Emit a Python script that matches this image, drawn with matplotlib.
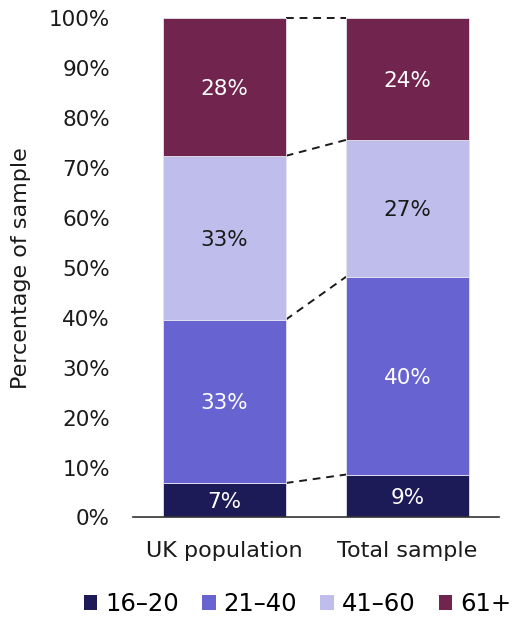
import matplotlib
matplotlib.use("Agg")
import matplotlib.pyplot as plt
import numpy as np
from matplotlib.patches import Patch

plt.rcParams['font.family'] = ['DejaVu Sans']

groups = ["UK population", "Total sample"]
age_bands = ["16\u201320", "21\u201340", "41\u201360", "61+"]
uk_population = [6.9, 32.7, 32.8, 27.6]
total_sample = [8.6, 39.6, 27.4, 24.4]
colors = ["#1c1a57", "#6763d1", "#bfbdec", "#70244e"]
label_colors = ["white", "white", "#1a1a1a", "white"]

values = np.array([uk_population, total_sample])  # rows: groups, cols: bands

fig = plt.figure(figsize=(5.15, 6.17), dpi=100)
ax = fig.add_axes([0.258, 0.1613, 0.711, 0.8095])

x = np.arange(len(groups))
width = 0.67
bottoms = np.zeros(len(groups))
tops_all = []
for j, band in enumerate(age_bands):
    vals = values[:, j]
    ax.bar(x, vals, width, bottom=bottoms, color=colors[j],
           edgecolor="#e6e3ee", linewidth=0.6, zorder=2)
    for i in range(len(groups)):
        ax.text(x[i], bottoms[i] + vals[i] / 2 - 0.4, f"{vals[i]:.0f}%",
                ha="center", va="center", fontsize=15.5,
                color=label_colors[j], zorder=3)
    bottoms = bottoms + vals
    tops_all.append(bottoms.copy())

# dashed connectors between the stacked segment boundaries
for tops in tops_all:
    ax.plot([x[0] + width / 2, x[1] - width / 2], [tops[0], tops[1]],
            ls=(0, (4, 3)), color="#1a1a1a", lw=1.4, zorder=1,
            clip_on=False)

ax.set_xlim(-0.5, 1.5)
ax.set_ylim(0, 100)
ax.set_yticks(np.arange(0, 101, 10))
ax.set_yticklabels([f"{v}%" for v in range(0, 101, 10)])
ax.set_xticks(x)
ax.set_xticklabels(groups)
ax.tick_params(axis="y", length=0, pad=16.5, labelsize=15.5, labelcolor="#1a1a1a")
ax.tick_params(axis="x", length=0, pad=17, labelsize=16, labelcolor="#1a1a1a")
for side in ["top", "right", "left"]:
    ax.spines[side].set_visible(False)
ax.spines["bottom"].set_color("#333333")
ax.spines["bottom"].set_linewidth(1.2)
ax.set_ylabel("Percentage of sample", fontsize=16, color="#1a1a1a", labelpad=13)

handles = [Patch(facecolor=c, edgecolor="none") for c in colors]
fig.legend(handles, age_bands, loc="center", bbox_to_anchor=(0.578, 0.021),
           ncol=4, frameon=False, fontsize=17.5, handlelength=0.55,
           handleheight=0.55, handletextpad=0.33, columnspacing=0.95)

fig.savefig("out.png", dpi=100)
